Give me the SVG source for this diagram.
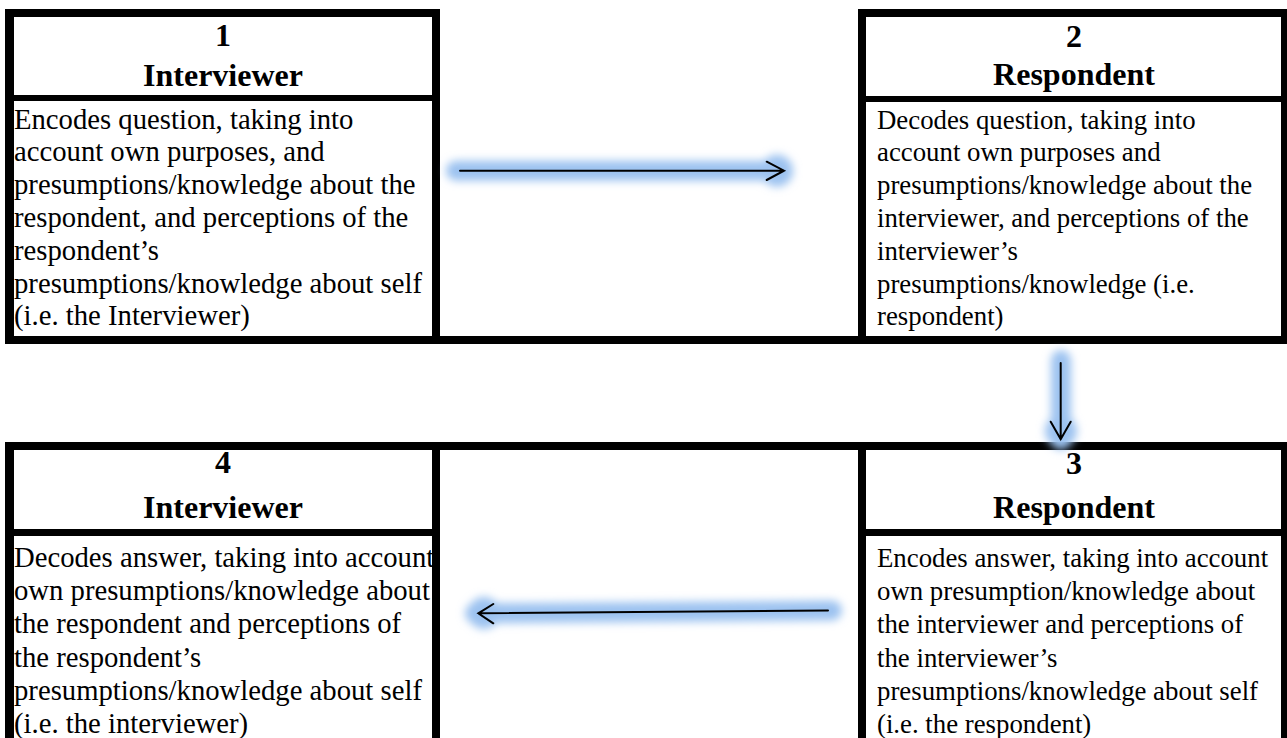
<svg xmlns="http://www.w3.org/2000/svg" width="1287" height="738" viewBox="0 0 1287 738">
  <defs>
    <filter id="glow" x="-20%" y="-300%" width="140%" height="700%">
      <feGaussianBlur stdDeviation="4.5"/>
    </filter>
    <filter id="glowV" x="-300%" y="-20%" width="700%" height="140%">
      <feGaussianBlur stdDeviation="4.5"/>
    </filter>
    <style>
      .rule { fill: #000; }
      .head { font-family: "Liberation Serif", "Times New Roman", serif; font-weight: bold; font-size: 32px; fill: #000; text-anchor: middle; }
      .body { font-family: "Liberation Serif", "Times New Roman", serif; font-size: 28.7px; fill: #000; }
      .right .body { font-size: 26.8px; }
      .halo { fill: none; stroke: #9cc2f0; stroke-width: 20; stroke-linecap: round; stroke-linejoin: round; }
      .halo-head { fill: #9cc2f0; }
      .shaft { fill: none; stroke: #000; stroke-width: 2; stroke-linecap: round; stroke-linejoin: miter; }
    </style>
  </defs>

  <rect x="0" y="0" width="1287" height="738" fill="#fff"/>

  <!-- shared table rules spanning the empty middle column -->
  <g id="grid">
    <rect class="rule" x="440" y="336" width="418" height="8"/>
    <rect class="rule" x="440" y="442" width="418" height="8"/>
  </g>

  <!-- step 1 -->
  <g id="node-1">
    <rect class="rule" x="5" y="9" width="435" height="8"/>
    <rect class="rule" x="5" y="9" width="9" height="335"/>
    <rect class="rule" x="432" y="9" width="8" height="335"/>
    <rect class="rule" x="14" y="95" width="418" height="6"/>
    <rect class="rule" x="5" y="336" width="435" height="8"/>
    <text class="head" x="223" y="45.5">1</text>
    <text class="head" x="223" y="86">Interviewer</text>
    <text class="body" x="14" y="128.5">Encodes question, taking into</text>
    <text class="body" x="14" y="161.3">account own purposes, and</text>
    <text class="body" x="14" y="194.1">presumptions/knowledge about the</text>
    <text class="body" x="14" y="226.9">respondent, and perceptions of the</text>
    <text class="body" x="14" y="259.7">respondent’s</text>
    <text class="body" x="14" y="292.5">presumptions/knowledge about self</text>
    <text class="body" x="14" y="325.3">(i.e. the Interviewer)</text>
  </g>

  <!-- step 2 -->
  <g id="node-2" class="right">
    <rect class="rule" x="858" y="9" width="429" height="8"/>
    <rect class="rule" x="858" y="9" width="8" height="335"/>
    <rect class="rule" x="1281" y="9" width="6" height="335"/>
    <rect class="rule" x="866" y="96" width="415" height="6"/>
    <rect class="rule" x="858" y="336" width="429" height="8"/>
    <text class="head" x="1074" y="46.5">2</text>
    <text class="head" x="1074" y="85">Respondent</text>
    <text class="body" x="877" y="128.5">Decodes question, taking into</text>
    <text class="body" x="877" y="161.3">account own purposes and</text>
    <text class="body" x="877" y="194.1">presumptions/knowledge about the</text>
    <text class="body" x="877" y="226.9">interviewer, and perceptions of the</text>
    <text class="body" x="877" y="259.7">interviewer’s</text>
    <text class="body" x="877" y="292.5">presumptions/knowledge (i.e.</text>
    <text class="body" x="877" y="325.3">respondent)</text>
  </g>

  <!-- step 3 -->
  <g id="node-3" class="right">
    <rect class="rule" x="858" y="442" width="429" height="8"/>
    <rect class="rule" x="858" y="442" width="8" height="296"/>
    <rect class="rule" x="1281" y="442" width="6" height="296"/>
    <rect class="rule" x="866" y="529" width="415" height="7"/>
    <text class="head" x="1074" y="474">3</text>
    <text class="head" x="1074" y="518">Respondent</text>
    <text class="body" x="877" y="566.7">Encodes answer, taking into account</text>
    <text class="body" x="877" y="600">own presumption/knowledge about</text>
    <text class="body" x="877" y="633.3">the interviewer and perceptions of</text>
    <text class="body" x="877" y="666.7">the interviewer’s</text>
    <text class="body" x="877" y="700">presumptions/knowledge about self</text>
    <text class="body" x="877" y="733.3">(i.e. the respondent)</text>
  </g>

  <!-- step 4 -->
  <g id="node-4">
    <rect class="rule" x="5" y="442" width="435" height="8"/>
    <rect class="rule" x="5" y="442" width="9" height="296"/>
    <rect class="rule" x="432" y="442" width="8" height="296"/>
    <rect class="rule" x="14" y="529" width="418" height="7"/>
    <text class="head" x="223" y="473">4</text>
    <text class="head" x="223" y="518">Interviewer</text>
    <text class="body" x="14" y="566.7">Decodes answer, taking into account</text>
    <text class="body" x="14" y="600">own presumptions/knowledge about</text>
    <text class="body" x="14" y="633.3">the respondent and perceptions of</text>
    <text class="body" x="14" y="666.7">the respondent’s</text>
    <text class="body" x="14" y="700">presumptions/knowledge about self</text>
    <text class="body" x="14" y="733.3">(i.e. the interviewer)</text>
  </g>

  <!-- flow arrows with soft blue glow -->
  <g id="connectors">
    <!-- 1 to 2 -->
    <g filter="url(#glow)">
      <path class="halo" d="M456 170.7 H782"/>
      <circle class="halo-head" cx="777" cy="170.7" r="16"/>
    </g>
    <path class="shaft" d="M460 170.7 H784 M766.7 161.7 L784 170.7 L766.7 180"/>

    <!-- 2 to 3 -->
    <g filter="url(#glowV)">
      <path class="halo" d="M1061 360 V440"/>
      <circle class="halo-head" cx="1061" cy="431" r="16"/>
    </g>
    <path class="shaft" d="M1060.7 363 V439.3 M1050.7 421.7 L1060.7 439.3 L1070.7 421.7"/>

    <!-- 3 to 4 -->
    <g filter="url(#glow)">
      <path class="halo" d="M832 610.5 L475 613.3"/>
      <circle class="halo-head" cx="484" cy="613" r="16"/>
    </g>
    <path class="shaft" d="M828 610.5 L478.3 613.3 M493.3 604 L478.3 613.3 L493.3 623.3"/>
  </g>
</svg>
